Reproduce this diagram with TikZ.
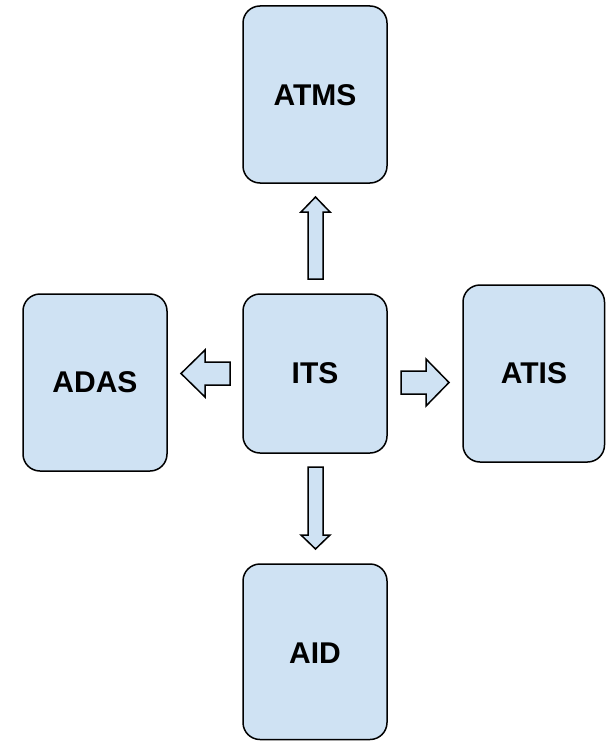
\documentclass[tikz,border=0pt]{standalone}
\usepackage{fontspec}
\setmainfont{Liberation Sans}
\definecolor{boxfill}{HTML}{CFE2F3}
\begin{document}
\begin{tikzpicture}[x=1pt,y=-1pt,
  sysbox/.style={draw=black,fill=boxfill,line width=1.5pt,rounded corners=17pt},
  lbl/.style={font=\fontsize{30}{30}\selectfont\bfseries,inner sep=0pt},
  blockarrow/.style={draw=black,fill=boxfill,line width=1.5pt,line join=miter}]
\useasboundingbox (0,0) rectangle (606,741);
% boxes
\draw[sysbox] (243,6) rectangle (387,183);
\node[lbl] (atms) at (315,95) {ATMS};
\draw[sysbox] (243,294) rectangle (387,453);
\node[lbl] (its) at (315,373) {ITS};
\draw[sysbox] (23,294) rectangle (167,471);
\node[lbl] (adas) at (95,382) {ADAS};
\draw[sysbox] (463,285) rectangle (604.5,462);
\node[lbl] (atis) at (534,373) {ATIS};
\draw[sysbox] (243,564) rectangle (387,739.5);
\node[lbl] (aid) at (315,653) {AID};
% block arrows
\draw[blockarrow] (315.5,197) -- (330,212) -- (323,212) -- (323,279) -- (308,279) -- (308,212) -- (301,212) -- cycle;
\draw[blockarrow] (315.5,549) -- (330,535) -- (323,535) -- (323,467) -- (308,467) -- (308,535) -- (301,535) -- cycle;
\draw[blockarrow] (181,373.5) -- (205,350) -- (205,362) -- (230,362) -- (230,385) -- (205,385) -- (205,397) -- cycle;
\draw[blockarrow] (449,382.5) -- (426,359) -- (426,371) -- (401,371) -- (401,394) -- (426,394) -- (426,406) -- cycle;
\end{tikzpicture}
\end{document}
